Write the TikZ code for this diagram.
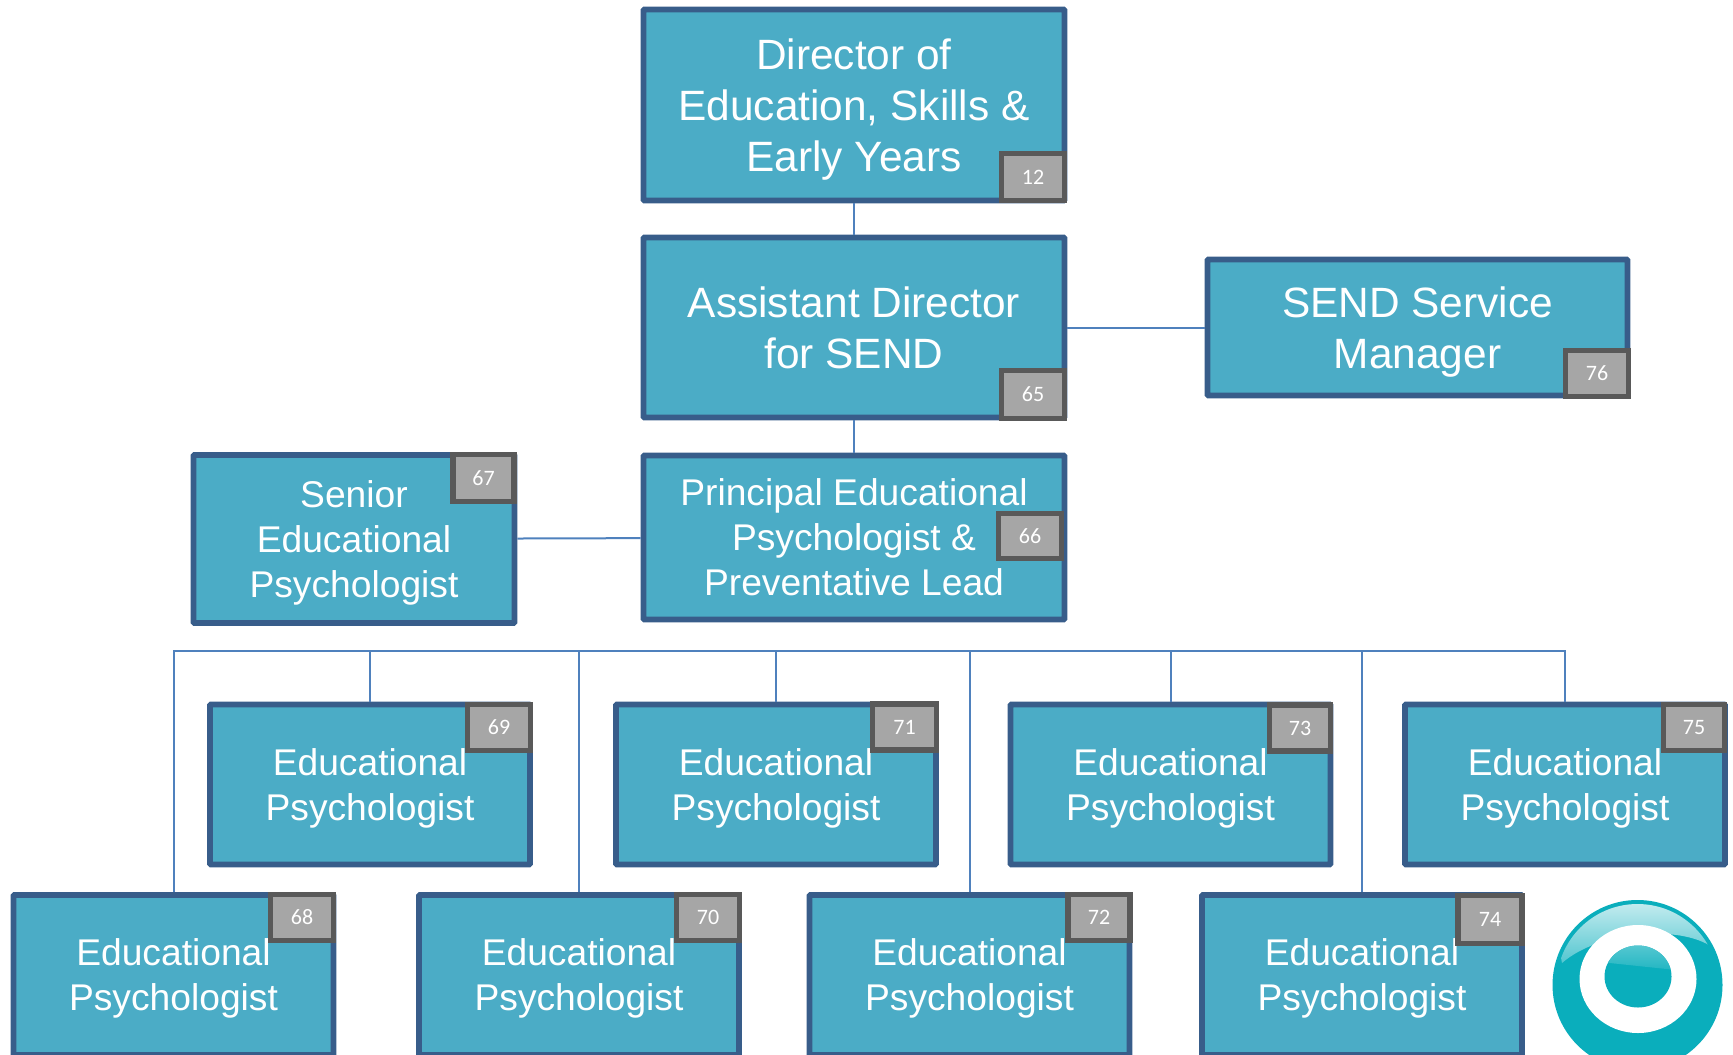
\documentclass[tikz,border=0pt]{standalone}
\usepackage{fontspec}
\setmainfont{Liberation Sans}
\newfontfamily\badgefont{Carlito}
\definecolor{cardfill}{HTML}{4BACC6}
\definecolor{cardline}{HTML}{385D8A}
\definecolor{badgefill}{HTML}{A6A6A6}
\definecolor{badgeline}{HTML}{595959}
\definecolor{linkcol}{HTML}{4F81BD}
\definecolor{logocol}{HTML}{0AAEBC}
\tikzset{
  card/.style={draw=cardline, fill=cardfill, line width=2.9pt, text=white, align=center, inner sep=0pt, text depth=0pt, rounded corners=.5pt},
  bigtext/.style={font=\fontsize{21.2}{25.5}\selectfont},
  midtext/.style={font=\fontsize{18.6}{22.5}\selectfont},
  badge/.style={draw=badgeline, fill=badgefill, line width=2.9pt, text=white, inner sep=0pt, font=\badgefont\fontsize{11}{13}\selectfont},
  link/.style={draw=linkcol, line width=1pt},
}

\begin{document}
\begin{tikzpicture}[x=0.5pt, y=-0.5pt]
  \useasboundingbox (0,0) rectangle (1733,1054);
  \clip (0,0) rectangle (1733,1054);

  \node[card, bigtext, minimum width=210.5pt, minimum height=95.5pt] (director) at (854,105) {Director of\\Education, Skills \&\\Early Years};
  \node[card, bigtext, minimum width=210.5pt, minimum height=90pt] (assistant) at (854,327.5) {Assistant Director\\for SEND};
  \node[card, bigtext, minimum width=210pt, minimum height=68pt] (send) at (1417.5,327.5) {SEND Service\\Manager};
  \node[card, midtext, minimum width=210.5pt, minimum height=82pt] (principal) at (854,537.5) {Principal Educational\\Psychologist \&\\Preventative Lead};
  \node[card, midtext, minimum width=160.5pt, minimum height=84pt] (senior) at (354,539) {Senior\\Educational\\Psychologist};

  \foreach \n/\x/\y in {69/370/784.5, 71/776/784.5, 73/1170.5/784.5, 75/1565/784.5,
                        68/173.5/975, 70/579/975, 72/969.5/975, 74/1362/975}
    \node[card, midtext, minimum width=160pt, minimum height=80pt] (ep\n) at (\x,\y) {Educational\\Psychologist};

  \foreach \n/\x/\y/\w/\h in {12/1033/177/31.5/23.5, 65/1033/394.5/31.5/24, 76/1597/373.5/31.5/23,
                              66/1030/536/31.5/22.5, 67/483.5/478/30.5/23.5,
                              69/499/727.5/31.5/23, 71/904.5/727/32/23, 73/1300/728/30.5/23, 75/1694/727.5/30.5/23,
                              68/302/917.5/31.5/23, 70/708/917.5/31.5/23, 72/1099/917.5/31/23, 74/1490/919.5/32/24}
    \node[badge, minimum width=\w pt, minimum height=\h pt] (tag\n) at (\x,\y) {\n};

  \coordinate (busl) at (173.5,651);
  \coordinate (busr) at (1565,651);

  \draw[link] (director) -- (assistant);
  \draw[link] (assistant) -- (principal);
  \draw[link] (assistant) -- (send);
  \draw[link] (senior) -- (principal);
  \draw[link] (ep68.north) -- (busl) -- (busr) -- (ep75.north);
  \foreach \n in {69,70,71,72,73,74}
    \draw[link] (ep\n.north) -- (ep\n.north |- busl);

  \fill[logocol] (1637.5,985) circle [radius=85];
  \begin{scope}
    \clip (1637.5,985) circle [radius=81];
    \shade[top color=logocol!22!white, bottom color=logocol!70!white]
      (1550,900) -- (1730,900) -- (1712,947) .. controls (1680,925) and (1600,930) .. (1562,963) -- cycle;
  \end{scope}
  \fill[white] (1638,979) circle [x radius=58.5, y radius=54];
  \fill[logocol] (1638,976.5) circle [x radius=33.5, y radius=31];
  \begin{scope}
    \clip (1638,976.5) circle [x radius=33.5, y radius=31];
    \shade[top color=logocol!65!white, bottom color=logocol!90!white]
      (1600,940) -- (1676,940) -- (1676,970) -- (1600,962) -- cycle;
  \end{scope}
\end{tikzpicture}
\end{document}
